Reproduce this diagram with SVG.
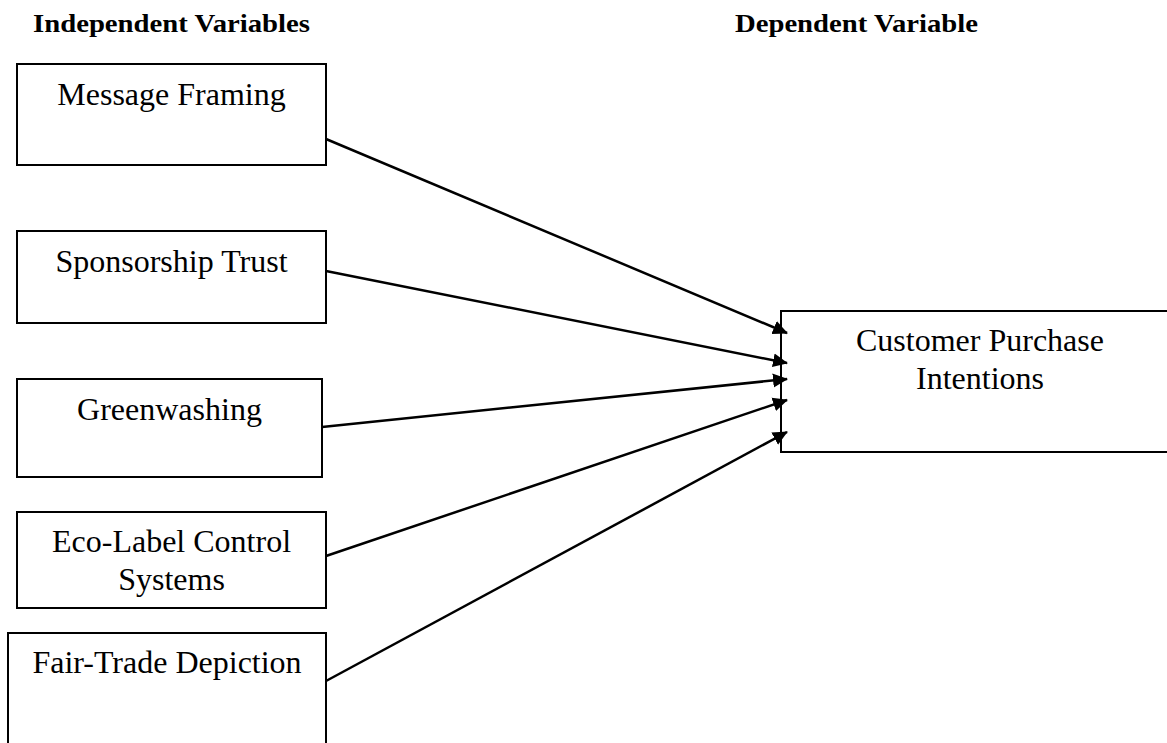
<svg xmlns="http://www.w3.org/2000/svg" width="1167" height="743" viewBox="0 0 1167 743">
<style>
.box{fill:#fff;stroke:#000;stroke-width:2}
.lbl{font-family:"Liberation Serif","Times New Roman",serif;font-size:32px;fill:#000;text-anchor:middle}
.hdr{font-family:"Liberation Serif","Times New Roman",serif;font-size:25px;font-weight:bold;fill:#000}
.conn{stroke:#000;stroke-width:2.5;fill:none;marker-end:url(#ah)}
</style>
<defs>
<marker id="ah" markerUnits="userSpaceOnUse" markerWidth="16" markerHeight="16" refX="14" refY="8" orient="auto">
<path d="M0,1 L15,8 L0,15 Z" fill="#000"/>
</marker>
</defs>
<rect width="1167" height="743" fill="#fff"/>
<text class="hdr" x="33" y="32" textLength="277" lengthAdjust="spacingAndGlyphs">Independent Variables</text>
<text class="hdr" x="735" y="32" textLength="243" lengthAdjust="spacingAndGlyphs">Dependent Variable</text>
<g id="node-message-framing">
<rect class="box" x="17" y="64" width="309" height="101"/>
<text class="lbl" x="171.5" y="105">Message Framing</text>
</g>
<g id="node-sponsorship-trust">
<rect class="box" x="17" y="231" width="309" height="92"/>
<text class="lbl" x="171.5" y="272">Sponsorship Trust</text>
</g>
<g id="node-greenwashing">
<rect class="box" x="17" y="379" width="305" height="98"/>
<text class="lbl" x="169.5" y="420">Greenwashing</text>
</g>
<g id="node-eco-label">
<rect class="box" x="17" y="512" width="309" height="96"/>
<text class="lbl" x="171.5" y="552">Eco-Label Control</text>
<text class="lbl" x="171.5" y="590">Systems</text>
</g>
<g id="node-fair-trade">
<rect class="box" x="8" y="633" width="318" height="130"/>
<text class="lbl" x="167" y="673">Fair-Trade Depiction</text>
</g>
<g id="node-customer-purchase">
<rect class="box" x="781" y="311" width="400" height="141"/>
<text class="lbl" x="980" y="351">Customer Purchase</text>
<text class="lbl" x="980" y="389">Intentions</text>
</g>
<g id="connectors">
<line class="conn" x1="326" y1="139" x2="787" y2="333"/>
<line class="conn" x1="326" y1="271" x2="787" y2="363"/>
<line class="conn" x1="322" y1="427" x2="787" y2="379"/>
<line class="conn" x1="326" y1="556" x2="787" y2="400"/>
<line class="conn" x1="326" y1="681" x2="787" y2="432"/>
</g>
</svg>
